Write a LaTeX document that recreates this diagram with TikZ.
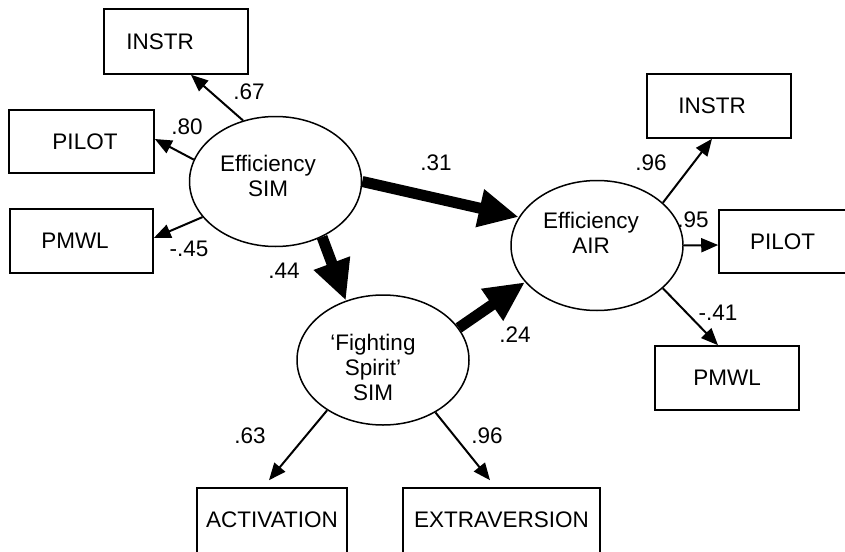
\documentclass[tikz,border=0pt]{standalone}
\usepackage{fontspec}
\setmainfont{Liberation Sans}
\usetikzlibrary{arrows.meta,shapes.geometric}
\begin{document}
\begin{tikzpicture}[x=1pt,y=-1pt,
  font=\fontsize{22.5}{25}\selectfont,
  box/.style={draw,line width=1.6pt,rectangle,inner sep=0pt,minimum width=#1,minimum height=64pt},
  cutbox/.style={draw,line width=1.6pt,rectangle,inner sep=0pt,minimum width=#1,minimum height=80pt,text depth=16pt},
  latent/.style={draw,line width=1.5pt,ellipse,minimum width=172pt,minimum height=130pt,inner sep=0pt},
  thinarrow/.style={line width=2pt,-{Triangle[length=17pt,width=14pt]}},
  thickarrow/.style={line width=11pt,-{Triangle[length=40pt,width=36pt]}},
  coef/.style={inner sep=0pt},
  lbl/.style={align=center,inner sep=0pt}]
\useasboundingbox (0,0) rectangle (845,551);

% latent variables
\node[latent] (esim) at (275.5,181.5) {};
\node[lbl] (tsim) at (268,176) {Efficiency\\SIM};
\node[latent] (eair) at (597,245.5) {};
\node[lbl] (tair) at (591,233) {Efficiency\\AIR};
\node[latent] (efs) at (383,360) {};
\node[lbl] (tfs) at (373,367) {‘Fighting\\Spirit’\\SIM};

% observed variables
\node[box=144pt,minimum height=65pt] (linstr) at (176,41.5) {INSTR\hspace*{32pt}};
\node[box=145pt,minimum height=63pt] (lpilot) at (81.5,141.5) {\hspace*{7pt}PILOT};
\node[box=143pt] (lpmwl) at (81.5,241) {PMWL\hspace*{13pt}};
\node[box=144pt] (rinstr) at (719,106) {INSTR\hspace*{14pt}};
\node[box=144pt,minimum height=63pt] (rpilot) at (791,241.5) {PILOT\hspace*{17pt}};
\node[box=144pt] (rpmwl) at (727,378) {PMWL};
\node[cutbox=150pt] (act) at (272,528) {ACTIVATION};
\node[cutbox=197pt] (ext) at (501.5,528) {EXTRAVERSION};

% loadings
\draw[thinarrow] (esim.118) -- ([xshift=15pt]linstr.south);
\draw[thinarrow] (esim.165) -- ([yshift=2.5pt]lpilot.east);
\draw[thinarrow] (esim.206) -- ([yshift=3pt]lpmwl.east);
\draw[thinarrow] (eair.33) -- ([xshift=-7pt]rinstr.south);
\draw[thinarrow] (eair.0) -- ([yshift=-3.5pt]rpilot.west);
\draw[thinarrow] (eair.-33) -- ([xshift=-9pt]rpmwl.north);
\draw[thinarrow] (efs.222) -- ([shift={(-3pt,7pt)}]act.north);
\draw[thinarrow] (efs.315) -- ([shift={(-11.5pt,7pt)}]ext.north);

% structural paths
\draw[thickarrow] (esim.0) -- (eair.160);
\draw[thickarrow] (esim.-50) -- (efs.122);
\draw[thickarrow] (efs.23) -- (eair.207);

% coefficients
\node[coef] (c67) at (249,92) {.67};
\node[coef] (c80) at (187,127) {.80};
\node[coef] (c45) at (189,249) {-.45};
\node[coef] (c44) at (284,271) {.44};
\node[coef] (c31) at (436,163) {.31};
\node[coef] (c96a) at (651,163) {.96};
\node[coef] (c95) at (693,220) {.95};
\node[coef] (c41) at (718,313) {-.41};
\node[coef] (c24) at (515,335) {.24};
\node[coef] (c63) at (250,436) {.63};
\node[coef] (c96b) at (487,436) {.96};
\end{tikzpicture}
\end{document}
